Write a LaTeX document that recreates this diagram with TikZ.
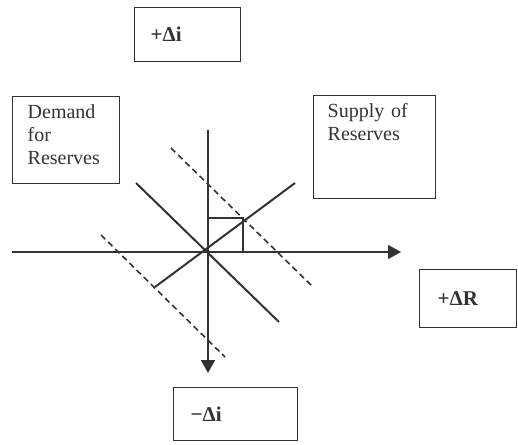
\documentclass[tikz,border=0pt]{standalone}
\usepackage{fontspec}
\setmainfont{Liberation Serif}
\usetikzlibrary{arrows.meta}

\colorlet{ink}{black!80}
\tikzset{
	box/.style={draw=ink, text=ink, line width=0.7pt, anchor=north west, align=left,
		inner ysep=4pt, text height=7pt, font=\fontsize{10}{11.5}\selectfont},
	signbox/.style={box, text depth=0pt, font=\fontsize{10.5}{11.5}\selectfont\bfseries},
	curve/.style={ink, line width=1pt},
	shift line/.style={ink, line width=0.8pt, dashed, dash pattern=on 3pt off 2pt},
	axis/.style={ink, line width=0.8pt, -{Triangle[length=6.5pt,width=7pt]}},
}

\begin{document}
\begin{tikzpicture}[x=0.5pt, y=-0.5pt]
		\useasboundingbox (0,0) rectangle (518,444);
		\coordinate (origin) at (208,252);
		\coordinate (left) at (12,252);
		\coordinate (right) at (401,252);
		\coordinate (top) at (208,130);
		\coordinate (bottom) at (208,373);
		\coordinate (dem1) at (136,183);
		\coordinate (dem2) at (279,322);
		\coordinate (sup1) at (155,287);
		\coordinate (sup2) at (295,183);
		\coordinate (corner) at (243,218);
		\coordinate (hi1) at (171,148);
		\coordinate (hi2) at (313,287);
		\coordinate (lo1) at (101,235);
		\coordinate (lo2) at (225,357);

		\node [signbox, inner xsep=8pt, text width=37pt, minimum height=27pt] (up) at (134,7) {+Δi};
		\node [box, inner xsep=7.5pt, text width=38.5pt, text depth=28.5pt] (demand) at (12,96) {Demand\\for\\Reserves};
		\node [box, inner xsep=7pt, text width=47pt, text depth=36.5pt] (supply) at (313,95) {Supply of\\Reserves};
		\node [signbox, inner xsep=9pt, text width=30.5pt, minimum height=29pt] (dR) at (419,269) {+ΔR};
		\node [signbox, inner xsep=8.5pt, text width=45pt, minimum height=26.5pt] (down) at (173,387) {−Δi};

		\draw [axis] (left) -- (right);
		\draw [axis] (top) -- (bottom);
		\draw [curve] (dem1) -- (dem2);
		\draw [curve] (sup1) -- (sup2);
		\draw [ink, line width=0.8pt] (origin |- corner) -- (corner) -- (corner |- origin);
		\draw [shift line] (hi1) -- (hi2);
		\draw [shift line] (lo1) -- (lo2);
	\end{tikzpicture}
\end{document}
